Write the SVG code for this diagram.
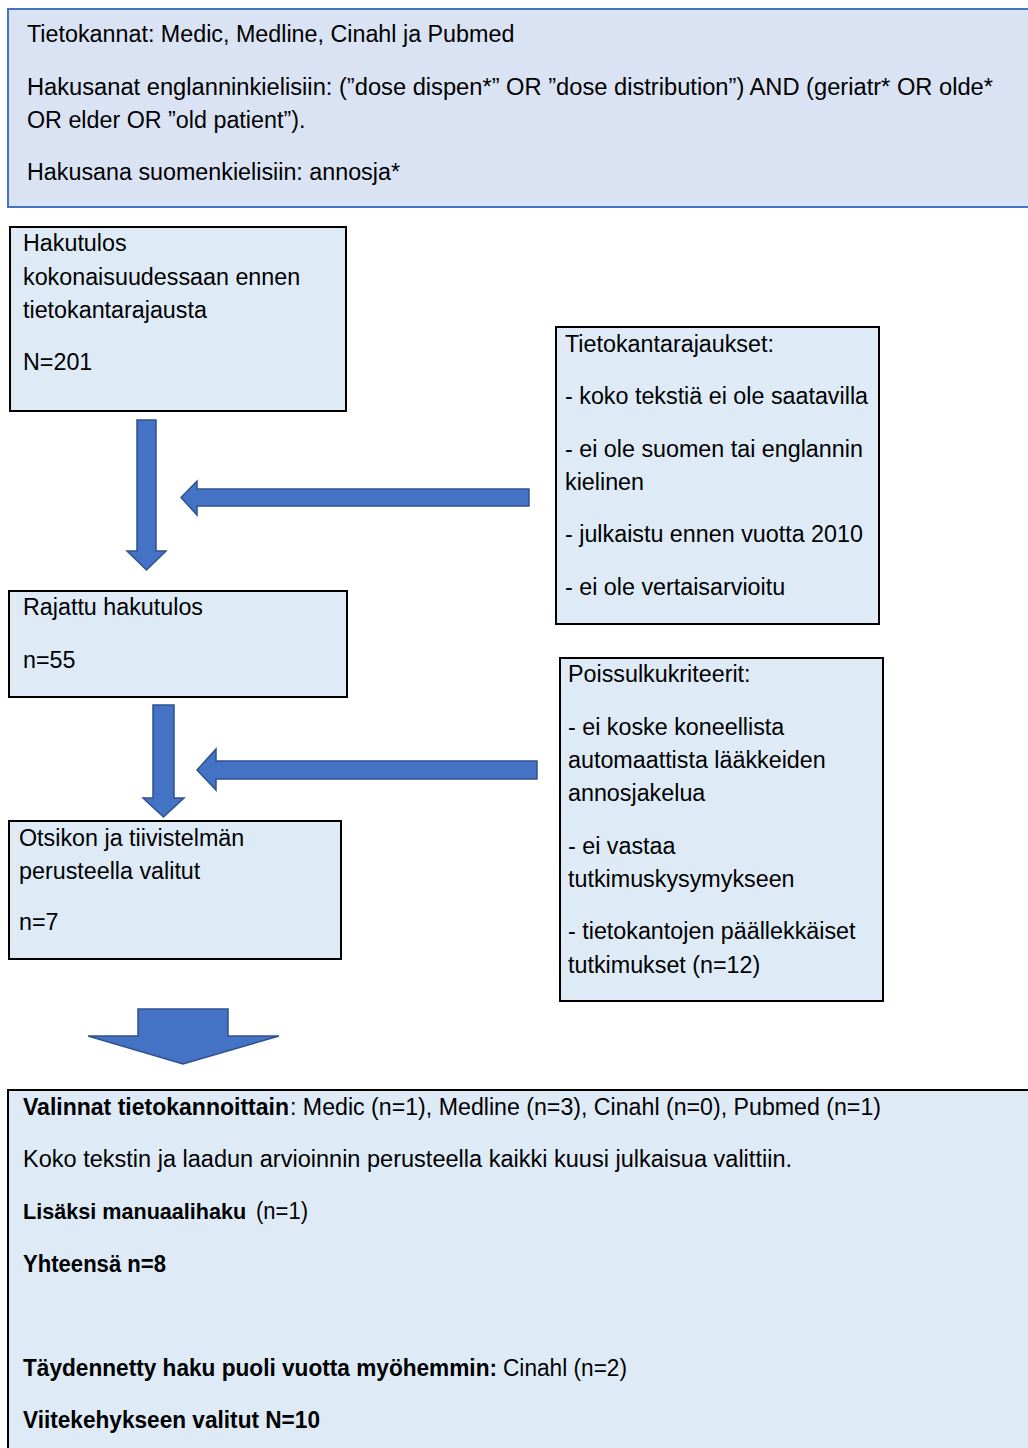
<svg xmlns="http://www.w3.org/2000/svg" width="1028" height="1448" viewBox="0 0 1028 1448">
<style>
text{font-family:"Liberation Sans",Arial,sans-serif;font-size:23.3px;fill:#000;}
.b{font-weight:bold;}
.box{fill:#deebf7;stroke:#000;stroke-width:2;}
.topbox{fill:#dae3f3;stroke:#4472c4;stroke-width:2;}
.arrow{fill:#4472c4;stroke:#2f528f;stroke-width:1.5;stroke-linejoin:miter;}
</style>
<rect width="1028" height="1448" fill="#fff"/>
<g id="search-terms">
<rect class="topbox" x="8" y="9" width="1030" height="198"/>
<text x="27" y="42">Tietokannat: Medic, Medline, Cinahl ja Pubmed</text>
<text x="27" y="95" textLength="966" lengthAdjust="spacingAndGlyphs">Hakusanat englanninkielisiin: (”dose dispen*” OR ”dose distribution”) AND (geriatr* OR olde*</text>
<text x="27" y="128">OR elder OR ”old patient”).</text>
<text x="27" y="180">Hakusana suomenkielisiin: annosja*</text>
</g>
<g id="total-results">
<rect class="box" x="10" y="227" width="336" height="184"/>
<text x="23" y="251">Hakutulos</text>
<text x="23" y="285">kokonaisuudessaan ennen</text>
<text x="23" y="318">tietokantarajausta</text>
<text x="23" y="370">N=201</text>
</g>
<g id="database-limits">
<rect class="box" x="556" y="327" width="323" height="297"/>
<text x="565" y="352">Tietokantarajaukset:</text>
<text x="565" y="404">- koko tekstiä ei ole saatavilla</text>
<text x="565" y="457">- ei ole suomen tai englannin</text>
<text x="565" y="490">kielinen</text>
<text x="565" y="542">- julkaistu ennen vuotta 2010</text>
<text x="565" y="595">- ei ole vertaisarvioitu</text>
</g>
<g id="limited-results">
<rect class="box" x="9" y="591" width="338" height="106"/>
<text x="23" y="615">Rajattu hakutulos</text>
<text x="23" y="668">n=55</text>
</g>
<g id="exclusion-criteria">
<rect class="box" x="560" y="658" width="323" height="343"/>
<text x="568" y="682">Poissulkukriteerit:</text>
<text x="568" y="735">- ei koske koneellista</text>
<text x="568" y="768">automaattista lääkkeiden</text>
<text x="568" y="801">annosjakelua</text>
<text x="568" y="854">- ei vastaa</text>
<text x="568" y="887">tutkimuskysymykseen</text>
<text x="568" y="939">- tietokantojen päällekkäiset</text>
<text x="568" y="973">tutkimukset (n=12)</text>
</g>
<g id="title-abstract">
<rect class="box" x="9" y="821" width="332" height="138"/>
<text x="19" y="846">Otsikon ja tiivistelmän</text>
<text x="19" y="879">perusteella valitut</text>
<text x="19" y="930">n=7</text>
</g>
<g id="final-selection">
<rect class="box" x="8" y="1090" width="1030" height="370"/>
<text x="23" y="1115" class="b" textLength="266" lengthAdjust="spacingAndGlyphs">Valinnat tietokannoittain</text>
<text x="290" y="1115" textLength="591" lengthAdjust="spacingAndGlyphs">: Medic (n=1), Medline (n=3), Cinahl (n=0), Pubmed (n=1)</text>
<text x="23" y="1167" textLength="769" lengthAdjust="spacingAndGlyphs">Koko tekstin ja laadun arvioinnin perusteella kaikki kuusi julkaisua valittiin.</text>
<text x="23" y="1219" class="b" style="font-size:21.6px">Lisäksi manuaalihaku</text>
<text x="256" y="1219" textLength="52" lengthAdjust="spacingAndGlyphs">(n=1)</text>
<text x="23" y="1272" class="b" textLength="143" lengthAdjust="spacingAndGlyphs">Yhteensä n=8</text>
<text x="23" y="1376" class="b" textLength="474" lengthAdjust="spacingAndGlyphs">Täydennetty haku puoli vuotta myöhemmin:</text>
<text x="503" y="1376" textLength="124" lengthAdjust="spacingAndGlyphs">Cinahl (n=2)</text>
<text x="23" y="1428" class="b" textLength="297" lengthAdjust="spacingAndGlyphs">Viitekehykseen valitut N=10</text>
</g>
<g id="connectors">
<polygon class="arrow" points="137,420 156,420 156,551 166,551 146.5,570 127,551 137,551"/>
<polygon class="arrow" points="529,489 529,506 197,506 197,515 181,497.5 197,481 197,489"/>
<polygon class="arrow" points="153,705 174,705 174,798 184,798 163.5,817 143,798 153,798"/>
<polygon class="arrow" points="537,761 537,779 216,779 216,790 197,770 216,749 216,761"/>
<polygon class="arrow" points="138,1009 228,1009 228,1036 279,1036 183,1064 88,1036 138,1036"/>
</g>
</svg>
